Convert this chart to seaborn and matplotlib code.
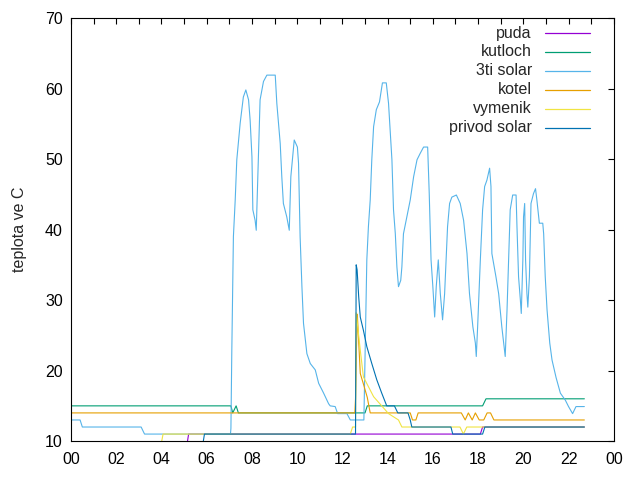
import matplotlib
matplotlib.use("Agg")
import matplotlib.pyplot as plt
import seaborn as sns

# hodiny (0-24) a teploty v C
puda_t = [0, 5.1, 5.2, 12.5, 18.1, 18.2, 22.7]
puda_v = [9, 9, 11, 11, 11, 12, 12]

kutloch_t = [0, 7.07, 7.15, 7.3, 7.4, 13.0, 13.1, 18.2, 18.35, 22.7]
kutloch_v = [15, 15, 14, 15, 14, 14, 15, 15, 16, 16]

solar3_t = [0, 0.4, 0.5, 3.1, 3.25, 7.05, 7.07, 7.11, 7.18, 7.26, 7.33, 7.48, 7.62, 7.73,
            7.85, 7.92, 8.0, 8.04, 8.14, 8.19, 8.29, 8.36, 8.51, 8.66, 9.03, 9.1, 9.25,
            9.32, 9.39, 9.54, 9.65, 9.72, 9.87, 10.01, 10.06, 10.13, 10.21, 10.28, 10.43,
            10.58, 10.8, 10.95, 11.17, 11.39, 11.46, 11.68, 11.79, 12.2, 12.35, 12.95,
            13.0, 13.08, 13.15, 13.23, 13.3, 13.38, 13.5, 13.64, 13.77, 13.94, 14.04,
            14.19, 14.26, 14.34, 14.41, 14.48, 14.58, 14.63, 14.7, 14.85, 15.0, 15.15,
            15.3, 15.44, 15.59, 15.77, 15.84, 15.92, 16.0, 16.08, 16.15, 16.24, 16.33,
            16.43, 16.52, 16.65, 16.74, 16.84, 17.04, 17.21, 17.36, 17.51, 17.62, 17.77,
            17.88, 17.92, 17.98, 18.1, 18.2, 18.29, 18.39, 18.51, 18.57, 18.61, 18.79,
            18.91, 19.05, 19.2, 19.28, 19.35, 19.42, 19.53, 19.68, 19.72, 19.79, 19.87,
            19.91, 19.98, 20.01, 20.06, 20.1, 20.16, 20.2, 20.27, 20.34, 20.45, 20.54,
            20.6, 20.71, 20.86, 20.9, 20.97, 21.05, 21.17, 21.27, 21.45, 21.64, 21.86,
            22.0, 22.18, 22.33, 22.7]
solar3_v = [13, 13, 12, 12, 11, 11, 11.8, 22.9, 39.0, 44.2, 49.9, 55.1, 58.8, 59.8,
            58.4, 55.5, 50.3, 42.8, 41.3, 39.9, 50.8, 58.4, 61.0, 61.9, 61.9, 57.9, 52.2,
            47.5, 43.7, 41.8, 39.9, 47.5, 52.7, 51.7, 49.4, 39.0, 31.9, 26.7, 22.4,
            21.0, 20.1, 18.2, 16.8, 15.3, 15.0, 14.9, 13.9, 13.9, 13.0, 13.0,
            21.5, 35.7, 40.4, 44.2, 49.9, 54.6, 57.0, 58.1, 60.8, 60.8, 57.9,
            49.9, 42.8, 39.4, 34.7, 31.9, 32.8, 34.7, 39.4, 41.8, 44.2, 47.5,
            49.9, 50.8, 51.7, 51.7, 45.1, 35.7, 31.9, 27.6, 31.9, 35.7, 30.9,
            27.2, 30.9, 40.4, 43.7, 44.6, 44.9, 43.7, 41.3, 36.6, 30.9, 26.2,
            23.9, 22.0, 26.2, 35.7, 42.8, 46.1, 47.0, 48.7, 46.1, 36.6, 33.3,
            30.9, 26.2, 22.0, 28.6, 35.7, 42.8, 44.9, 44.9, 40.4, 33.3, 30.0,
            28.1, 35.7, 41.8, 43.7, 35.7, 30.9, 29.0, 33.3, 43.7, 45.1, 45.8,
            44.2, 40.9, 40.9, 39.4, 33.3, 28.6, 23.9, 21.5, 19.0, 16.8, 15.8,
            14.9, 13.9, 14.9, 14.9]

kotel_t = [0, 12.55, 12.58, 12.62, 12.66, 12.79, 12.92, 13.1, 13.23, 15.0, 15.1, 15.25,
           15.35, 17.26, 17.43, 17.57, 17.74, 17.88, 18.05, 18.25, 18.4, 18.55, 18.7, 22.7]
kotel_v = [14, 14, 16, 23, 28, 19.6, 18.2, 16.2, 14, 14, 13, 13,
           14, 14, 13, 14, 13, 14, 13, 13, 14, 14, 13, 13]

vymenik_t = [0, 3.95, 4.07, 12.35, 12.45, 12.58, 12.61, 12.79, 12.93, 13.38, 14.04,
             14.48, 14.63, 15.07, 17.2, 17.35, 17.5, 18.3, 22.7]
vymenik_v = [9, 9, 11, 11, 12, 12, 28.2, 22.9, 19.1, 16.3, 13.9,
             13.0, 12, 12, 12, 11, 12, 12, 12]

privod_t = [0, 5.8, 5.9, 12.5, 12.58, 12.61, 12.65, 12.72, 12.79, 12.93, 13.08, 13.3,
            13.52, 13.74, 13.96, 14.3, 14.45, 14.9, 15.0, 15.07, 16.8, 16.88, 18.2,
            18.3, 22.7]
privod_v = [9, 9, 11, 11, 11, 35, 34.3, 30.5, 27.6, 25.7, 23.4, 21.0,
            18.7, 16.8, 15.0, 15.0, 14, 14, 13, 12, 12, 11, 11,
            12, 12]

series = [
    ("puda", puda_t, puda_v, "#9400d3"),
    ("kutloch", kutloch_t, kutloch_v, "#009e73"),
    ("3ti solar", solar3_t, solar3_v, "#56b4e9"),
    ("kotel", kotel_t, kotel_v, "#e69f00"),
    ("vymenik", vymenik_t, vymenik_v, "#f0e442"),
    ("privod solar", privod_t, privod_v, "#0072b2"),
]

sns.set_style("white")
plt.rcParams["font.family"] = ["Liberation Sans", "DejaVu Sans"]

fig, ax = plt.subplots(figsize=(6.4, 4.8), dpi=100)
fig.subplots_adjust(left=0.111, right=0.959, bottom=0.081, top=0.9625)

for name, t, v, col in series:
    sns.lineplot(x=t, y=v, color=col, lw=0.8, estimator=None, sort=False, ax=ax)

# legenda ve stylu gnuplotu (text zarovnany doprava, pak cara)
for i, (name, t, v, col) in enumerate(series):
    yy = 0.9645 - i * 0.0447
    ax.text(0.849, yy, name, ha="right", va="center", fontsize=11.5,
            transform=ax.transAxes)
    ax.plot([0.873, 0.956], [yy, yy], color=col, lw=0.9, transform=ax.transAxes)

ax.set_xlim(0, 24)
ax.set_ylim(10, 70)
ax.set_xticks(range(0, 25, 2))
ax.set_xticklabels(["%02d" % (h % 24) for h in range(0, 25, 2)])
ax.set_xticks(range(0, 25), minor=True)
ax.set_yticks(range(10, 71, 10))
ax.tick_params(which="both", direction="in", top=True, right=True,
               length=4, width=0.8, labelsize=11.5, colors="black", pad=6)
ax.tick_params(axis="x", pad=8)
for sp in ax.spines.values():
    sp.set_color("black")
    sp.set_linewidth(0.8)
ax.set_ylabel("teplota ve C", fontsize=11.5, labelpad=13)
ax.set_xlabel("")

fig.savefig("out.png", dpi=100)
